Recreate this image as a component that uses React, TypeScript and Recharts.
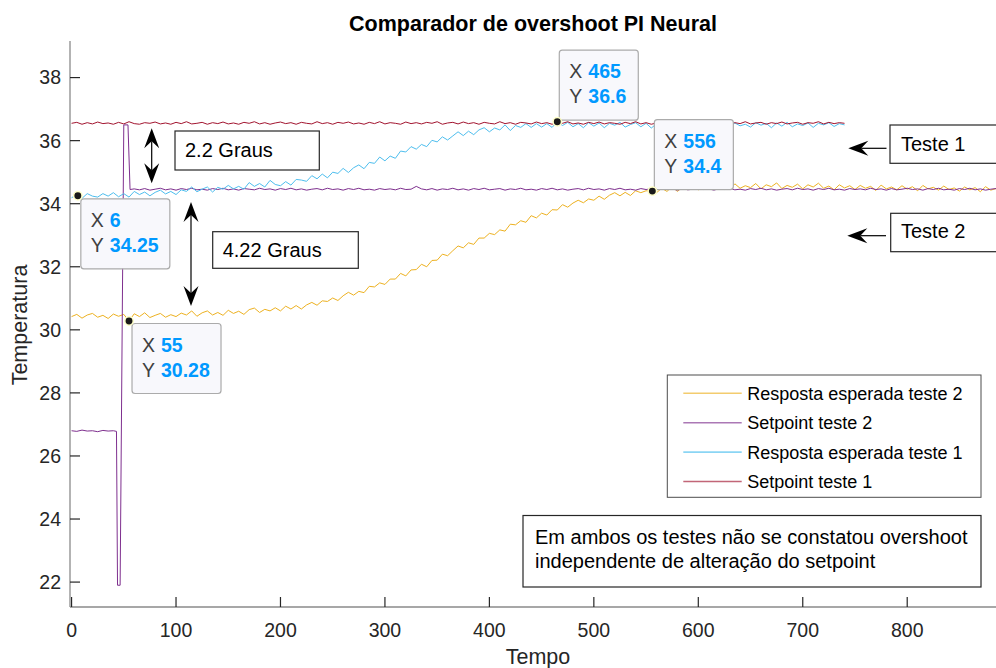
import React from "react";
import {
  ComposedChart,
  Line,
  XAxis,
  YAxis,
  ReferenceDot,
  Customized,
} from "recharts";

// amostras a cada 5 s
const tempo = [
  0, 5, 10, 15, 20, 25, 30, 35, 40, 45,
  50, 55, 60, 65, 70, 75, 80, 85, 90, 95,
  100, 105, 110, 115, 120, 125, 130, 135, 140, 145,
  150, 155, 160, 165, 170, 175, 180, 185, 190, 195,
  200, 205, 210, 215, 220, 225, 230, 235, 240, 245,
  250, 255, 260, 265, 270, 275, 280, 285, 290, 295,
  300, 305, 310, 315, 320, 325, 330, 335, 340, 345,
  350, 355, 360, 365, 370, 375, 380, 385, 390, 395,
  400, 405, 410, 415, 420, 425, 430, 435, 440, 445,
  450, 455, 460, 465, 470, 475, 480, 485, 490, 495,
  500, 505, 510, 515, 520, 525, 530, 535, 540, 545,
  550, 555, 560, 565, 570, 575, 580, 585, 590, 595,
  600, 605, 610, 615, 620, 625, 630, 635, 640, 645,
  650, 655, 660, 665, 670, 675, 680, 685, 690, 695,
  700, 705, 710, 715, 720, 725, 730, 735, 740, 745,
  750, 755, 760, 765, 770, 775, 780, 785, 790, 795,
  800, 805, 810, 815, 820, 825, 830, 835, 840, 845,
  850, 855, 860, 865, 870, 875, 880, 885,
];

// Resposta esperada teste 2 (amarelo)
const respostaTeste2 = [
  30.42, 30.49, 30.37, 30.47, 30.52, 30.4, 30.46, 30.36, 30.5, 30.43,
  30.49, 30.28, 30.51, 30.42, 30.54, 30.39, 30.46, 30.52, 30.4, 30.48,
  30.42, 30.53, 30.47, 30.6, 30.43, 30.54, 30.6, 30.47, 30.55, 30.46,
  30.62, 30.52, 30.59, 30.49, 30.64, 30.69, 30.55, 30.65, 30.6, 30.7,
  30.6, 30.75, 30.66, 30.77, 30.66, 30.79, 30.87, 30.78, 30.92, 30.9,
  31.01, 30.93, 31.08, 31.19, 31.1, 31.22, 31.18, 31.38, 31.36, 31.49,
  31.44, 31.61, 31.61, 31.79, 31.71, 31.9, 31.91, 32.08, 32.0, 32.2,
  32.21, 32.4, 32.35, 32.51, 32.66, 32.6, 32.76, 32.71, 32.91, 32.91,
  33.06, 33.02, 33.17, 33.13, 33.35, 33.33, 33.46, 33.41, 33.62, 33.55,
  33.7, 33.64, 33.81, 33.8, 33.97, 33.89, 34.02, 34.11, 34.03, 34.15,
  34.11, 34.24, 34.14, 34.27, 34.35, 34.25, 34.36, 34.26, 34.41, 34.35,
  34.41, 34.4, 34.35, 34.49, 34.39, 34.54, 34.39, 34.52, 34.45, 34.57,
  34.44, 34.58, 34.47, 34.61, 34.5, 34.55, 34.45, 34.63, 34.49, 34.57,
  34.51, 34.64, 34.47, 34.6, 34.54, 34.66, 34.48, 34.58, 34.52, 34.62,
  34.47, 34.6, 34.53, 34.65, 34.49, 34.56, 34.44, 34.6, 34.5, 34.57,
  34.45, 34.58, 34.49, 34.55, 34.42, 34.59, 34.47, 34.53, 34.44, 34.57,
  34.46, 34.54, 34.41, 34.58, 34.47, 34.52, 34.43, 34.56, 34.45, 34.5,
  34.4, 34.53, 34.44, 34.51, 34.38, 34.54, 34.43, 34.48,
];

// Setpoint teste 2 (roxo): degrau inicial com tempos proprios, depois 60..885
const setpoint2InicioTempo = [0, 5, 10, 15, 20, 25, 30, 35, 40, 43, 44, 46.5, 50, 54, 56];
const setpoint2Inicio = [
  26.8, 26.78, 26.82, 26.79, 26.8, 26.77, 26.81, 26.79, 26.8, 26.78,
  21.9, 21.9, 36.5, 36.5, 34.45,
];
const setpoint2Resto = [
  34.47, 34.44, 34.48, 34.43, 34.46, 34.49, 34.44, 34.47, 34.43, 34.48,
  34.45, 34.49, 34.44, 34.46, 34.43, 34.48, 34.45, 34.49, 34.44, 34.47,
  34.43, 34.48, 34.46, 34.44, 34.49, 34.45, 34.47, 34.43, 34.48, 34.45,
  34.49, 34.44, 34.47, 34.43, 34.46, 34.48, 34.44, 34.49, 34.45, 34.47,
  34.43, 34.48, 34.45, 34.49, 34.44, 34.46, 34.43, 34.48, 34.45, 34.47,
  34.44, 34.49, 34.45, 34.46, 34.55, 34.47, 34.44, 34.48, 34.43, 34.47,
  34.45, 34.49, 34.44, 34.47, 34.43, 34.48, 34.45, 34.49, 34.44, 34.46,
  34.48, 34.43, 34.47, 34.45, 34.49, 34.44, 34.46, 34.43, 34.48, 34.45,
  34.49, 34.44, 34.47, 34.43, 34.46, 34.48, 34.44, 34.49, 34.45, 34.47,
  34.43, 34.48, 34.45, 34.49, 34.44, 34.46, 34.43, 34.48, 34.45, 34.47,
  34.44, 34.49, 34.45, 34.47, 34.43, 34.48, 34.44, 34.46, 34.49, 34.45,
  34.47, 34.43, 34.48, 34.45, 34.49, 34.44, 34.46, 34.43, 34.48, 34.45,
  34.49, 34.44, 34.47, 34.43, 34.46, 34.48, 34.44, 34.49, 34.45, 34.47,
  34.43, 34.48, 34.45, 34.49, 34.44, 34.46, 34.43, 34.48, 34.45, 34.47,
  34.44, 34.49, 34.45, 34.47, 34.43, 34.48, 34.44, 34.46, 34.49, 34.45,
  34.47, 34.43, 34.48, 34.45, 34.49, 34.44, 34.46, 34.43, 34.48, 34.45,
  34.49, 34.44, 34.47, 34.43, 34.46, 34.48,
];

// Resposta esperada teste 1 (azul), 0..740
const respostaTeste1 = [
  34.19, 34.28, 34.17, 34.32, 34.24, 34.21, 34.32, 34.24, 34.35, 34.22,
  34.32, 34.21, 34.39, 34.29, 34.37, 34.25, 34.36, 34.43, 34.31, 34.39,
  34.29, 34.44, 34.39, 34.53, 34.38, 34.46, 34.53, 34.37, 34.52, 34.46,
  34.58, 34.47, 34.55, 34.46, 34.67, 34.55, 34.64, 34.53, 34.74, 34.61,
  34.57, 34.7, 34.59, 34.77, 34.75, 34.71, 34.89, 34.79, 34.94, 34.82,
  35.0, 34.96, 35.12, 34.99, 35.14, 35.23, 35.11, 35.31, 35.28, 35.48,
  35.36, 35.51, 35.44, 35.67, 35.64, 35.81, 35.73, 35.88, 35.81, 36.01,
  35.96, 36.12, 36.02, 36.15, 36.28, 36.16, 36.3, 36.19, 36.34, 36.41,
  36.28, 36.4, 36.34, 36.5, 36.32, 36.48, 36.42, 36.54, 36.42, 36.54,
  36.43, 36.54, 36.42, 36.6, 36.48, 36.58, 36.44, 36.54, 36.41, 36.57,
  36.46, 36.56, 36.41, 36.55, 36.49, 36.58, 36.43, 36.51, 36.57, 36.44,
  36.55, 36.4, 36.53, 36.47, 36.58, 36.45, 36.56, 36.5, 36.42, 36.57,
  36.48, 36.55, 36.39, 36.54, 36.5, 36.58, 36.44, 36.56, 36.47, 36.52,
  36.43, 36.57, 36.49, 36.55, 36.41, 36.56, 36.46, 36.58, 36.44, 36.53,
  36.48, 36.56, 36.42, 36.55, 36.5, 36.57, 36.45, 36.54, 36.5,
];

// Setpoint teste 1 (vermelho), 0..740
const setpointTeste1 = [
  36.55, 36.58, 36.52, 36.57, 36.53, 36.59, 36.54, 36.56, 36.52, 36.58,
  36.53, 36.6, 36.54, 36.52, 36.57, 36.55, 36.59, 36.53, 36.56, 36.52,
  36.58, 36.54, 36.6, 36.53, 36.55, 36.58, 36.52, 36.57, 36.54, 36.59,
  36.53, 36.56, 36.52, 36.58, 36.55, 36.6, 36.53, 36.57, 36.52, 36.56,
  36.59, 36.54, 36.57, 36.52, 36.58, 36.55, 36.53, 36.6, 36.54, 36.57,
  36.52, 36.58, 36.55, 36.59, 36.53, 36.56, 36.52, 36.58, 36.54, 36.6,
  36.53, 36.57, 36.55, 36.52, 36.59, 36.54, 36.57, 36.53, 36.58, 36.55,
  36.6, 36.52, 36.56, 36.58, 36.53, 36.59, 36.54, 36.57, 36.52, 36.58,
  36.55, 36.53, 36.6, 36.54, 36.57, 36.52, 36.58, 36.56, 36.53, 36.59,
  36.54, 36.57, 36.52, 36.58, 36.55, 36.6, 36.53, 36.56, 36.52, 36.58,
  36.54, 36.59, 36.53, 36.57, 36.55, 36.52, 36.58, 36.54, 36.6, 36.53,
  36.57, 36.52, 36.56, 36.59, 36.54, 36.58, 36.53, 36.55, 36.6, 36.52,
  36.57, 36.54, 36.58, 36.53, 36.59, 36.55, 36.52, 36.57, 36.54, 36.6,
  36.53, 36.56, 36.58, 36.52, 36.57, 36.54, 36.59, 36.53, 36.56, 36.58,
  36.52, 36.57, 36.55, 36.6, 36.53, 36.58, 36.54, 36.57, 36.55,
];

const xTicks = [0, 100, 200, 300, 400, 500, 600, 700, 800];
const yTicks = [22, 24, 26, 28, 30, 32, 34, 36, 38];

const nomesSeries = [
  "Resposta esperada teste 2",
  "Setpoint teste 2",
  "Resposta esperada teste 1",
  "Setpoint teste 1",
];
const coresSeries = ["#EDB120", "#7E2F8E", "#4DBEEE", "#A2142F"];

// data tips do MATLAB
const tipX = [6, 55, 465, 556];
const tipY = [34.25, 30.28, 36.6, 34.4];

const titulo = "Comparador de overshoot PI Neural";
const rotuloX = "Tempo";
const rotuloY = "Temperatura";
const notaLinhas = [
  "Em ambos os testes não se constatou overshoot",
  "independente de alteração do setpoint",
];

const pontos = (t: number[], v: number[]) => v.map((y, i) => ({ t: t[i], y }));

const serieResp2 = pontos(tempo, respostaTeste2);
const serieSet2 = pontos(
  [...setpoint2InicioTempo, ...tempo.slice(12)],
  [...setpoint2Inicio, ...setpoint2Resto]
);
const serieResp1 = pontos(tempo, respostaTeste1);
const serieSet1 = pontos(tempo, setpointTeste1);
const series = [serieResp2, serieSet2, serieResp1, serieSet1];

const FONTE = "'Liberation Sans', Arial, Helvetica, sans-serif";
const AZUL_TIP = "#0099FF";

// posicao das caixas dos data tips (px, relativas ao ponto)
const tipLayout = [
  { dx: 3, dy: 3, w: 89, acima: false },
  { dx: 3, dy: 2.5, w: 89, acima: false },
  { dx: 2, dy: -1.5, w: 79, acima: true },
  { dx: 2, dy: -1.5, w: 79, acima: true },
];

function DataTip(props: any) {
  const { cx, cy, idx } = props;
  const lay = tipLayout[idx];
  const h = 70;
  const bx = cx + lay.dx;
  const by = lay.acima ? cy + lay.dy - h : cy + lay.dy;
  return (
    <g fontFamily={FONTE}>
      <rect x={bx} y={by} width={lay.w} height={h} rx={3} fill="#F8F8FC" stroke="#ABABAB" strokeWidth={1.2} />
      <text x={bx + 10} y={by + 28} fontSize={19.5} fill="#404040">X</text>
      <text x={bx + 29} y={by + 28} fontSize={19.5} fontWeight="bold" fill={AZUL_TIP}>
        {String(tipX[idx])}
      </text>
      <text x={bx + 10} y={by + 53} fontSize={19.5} fill="#404040">Y</text>
      <text x={bx + 29} y={by + 53} fontSize={19.5} fontWeight="bold" fill={AZUL_TIP}>
        {String(tipY[idx])}
      </text>
      <circle cx={cx} cy={cy} r={4.2} fill="#1a1a1a" stroke="#FFFFC8" strokeWidth={1.5} />
    </g>
  );
}

function Seta({ x1, y1, x2, y2, dupla }: { x1: number; y1: number; x2: number; y2: number; dupla?: boolean }) {
  const len = Math.hypot(x2 - x1, y2 - y1);
  const ux = (x2 - x1) / len;
  const uy = (y2 - y1) / len;
  const px = -uy;
  const py = ux;
  const L = 20;
  const W = 7.5;
  const N = 13;
  const cabeca = (tx: number, ty: number, dx: number, dy: number) =>
    [
      [tx, ty],
      [tx - dx * L + px * W, ty - dy * L + py * W],
      [tx - dx * N, ty - dy * N],
      [tx - dx * L - px * W, ty - dy * L - py * W],
    ]
      .map((p) => p.join(","))
      .join(" ");
  const sx = dupla ? x1 + ux * N : x1;
  const sy = dupla ? y1 + uy * N : y1;
  return (
    <g>
      <line x1={sx} y1={sy} x2={x2 - ux * N} y2={y2 - uy * N} stroke="#000" strokeWidth={1.2} />
      <polygon points={cabeca(x2, y2, ux, uy)} fill="#000" />
      {dupla && <polygon points={cabeca(x1, y1, -ux, -uy)} fill="#000" />}
    </g>
  );
}

function Caixa({ x, y, w, h, texto, tx, ty }: any) {
  return (
    <g>
      <rect x={x} y={y} width={w} height={h} fill="none" stroke="#262626" strokeWidth={1.2} />
      <text x={tx} y={ty} fontSize={20} fill="#000" fontFamily={FONTE}>{texto}</text>
    </g>
  );
}

function Anotacoes() {
  return (
    <g fontFamily={FONTE}>
      <text x={533} y={30.5} textAnchor="middle" fontSize={21.5} fontWeight="bold" fill="#000">
        {titulo}
      </text>
      <text x={538} y={663.5} textAnchor="middle" fontSize={21.5} fill="#262626">
        {rotuloX}
      </text>
      <text x={27} y={325} textAnchor="middle" fontSize={21.5} fill="#262626" transform="rotate(-90 27 325)">
        {rotuloY}
      </text>

      <Seta x1={151.7} y1={128.3} x2={151.7} y2={183.3} dupla />
      <Seta x1={191} y1={202} x2={191} y2={306} dupla />
      <Seta x1={886.5} y1={148.3} x2={848.3} y2={148.3} />
      <Seta x1={886} y1={235.7} x2={847.3} y2={235.7} />

      <Caixa x={175} y={131} w={144.3} h={39} texto="2.2 Graus" tx={185} ty={156.7} />
      <Caixa x={212.7} y={231.7} w={145.6} h={36.6} texto="4.22 Graus" tx={222.7} ty={257.3} />
      <Caixa x={890} y={125} w={140} h={38.3} texto="Teste 1" tx={901} ty={150.7} />
      <Caixa x={890.7} y={213.3} w={140} h={38.4} texto="Teste 2" tx={901} ty={238.3} />

      <rect x={523} y={515.5} width={458} height={71.5} fill="none" stroke="#262626" strokeWidth={1.2} />
      {notaLinhas.map((l, i) => (
        <text key={i} x={535} y={544 + i * 24} fontSize={20} fill="#000">
          {l}
        </text>
      ))}

      <rect x={667.3} y={375} width={313.7} height={122.3} fill="#fff" stroke="#4d4d4d" strokeWidth={1} />
      {nomesSeries.map((n, i) => {
        const yy = 393.3 + i * 29.4;
        return (
          <g key={n}>
            <line x1={683.3} y1={yy} x2={741.7} y2={yy} stroke={coresSeries[i]} strokeOpacity={0.65} strokeWidth={1.6} />
            <text x={747.3} y={yy + 6.4} fontSize={18} fill="#000">
              {n}
            </text>
          </g>
        );
      })}
    </g>
  );
}

export default function App() {
  const eixo = { stroke: "#8a8a8a", strokeWidth: 1.3 };
  const traco = { stroke: "#262626", strokeWidth: 1.2 };
  return (
    <div
      style={{
        position: "absolute",
        left: 0,
        top: 0,
        width: 996,
        height: 668,
        overflow: "hidden",
        background: "#fff",
      }}
    >
      <ComposedChart
        width={1000}
        height={668}
        margin={{ top: 41, right: 4, bottom: 21, left: 0 }}
        style={{ fontFamily: FONTE }}
      >
        <XAxis
          dataKey="t"
          type="number"
          domain={[-1.5, 885]}
          ticks={xTicks}
          interval={0}
          allowDataOverflow
          height={40}
          tickSize={-10}
          tickMargin={26}
          axisLine={eixo}
          tickLine={traco}
          tick={{ fill: "#262626", fontSize: 19.5 }}
        />
        <XAxis
          xAxisId="top"
          orientation="top"
          dataKey="t"
          type="number"
          domain={[-1.5, 885]}
          ticks={xTicks}
          interval={0}
          allowDataOverflow
          height={0}
          tickSize={-10}
          tickFormatter={() => ""}
          axisLine={eixo}
          tickLine={traco}
        />
        <YAxis
          type="number"
          domain={[21.21, 39.16]}
          ticks={yTicks}
          interval={0}
          allowDataOverflow
          width={70}
          tickSize={-10}
          tickMargin={19}
          axisLine={eixo}
          tickLine={traco}
          tick={{ fill: "#262626", fontSize: 19.5 }}
        />
        {series.map((d, i) => (
          <Line
            key={nomesSeries[i]}
            data={d}
            dataKey="y"
            name={nomesSeries[i]}
            type="linear"
            stroke={coresSeries[i]}
            strokeWidth={1}
            dot={false}
            activeDot={false}
            isAnimationActive={false}
          />
        ))}
        <Customized component={<Anotacoes />} />
        {tipX.map((x, i) => (
          <ReferenceDot
            key={x}
            x={x}
            y={tipY[i]}
            r={4}
            ifOverflow="visible"
            shape={(p: any) => <DataTip {...p} idx={i} />}
          />
        ))}
      </ComposedChart>
    </div>
  );
}
